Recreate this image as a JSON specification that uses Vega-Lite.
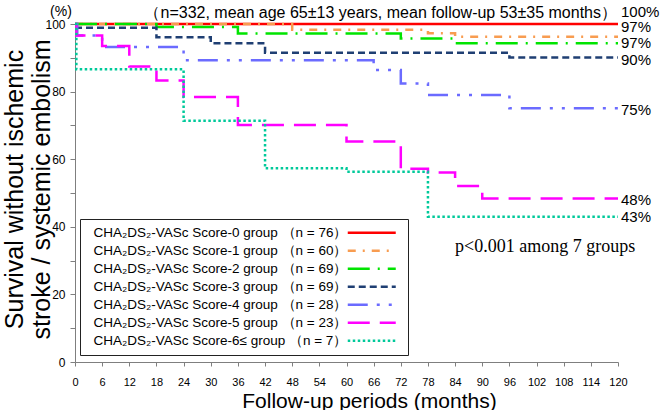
{
  "$schema": "https://vega.github.io/schema/vega-lite/v6.json",
  "width": 543,
  "height": 338,
  "autosize": {"type": "none"},
  "padding": {"left": 75, "top": 24, "right": 43, "bottom": 48},
  "background": "white",
  "config": {"view": {"stroke": null}, "font": "Liberation Sans", "axis": {"labelOverlap": false}, "axisX": {"labelOverlap": false}},
  "datasets": {
    "curves": [
      {"g": "CHA₂DS₂-VASc Score-0 group （n = 76）", "m": 0, "v": 100},
      {"g": "CHA₂DS₂-VASc Score-0 group （n = 76）", "m": 120, "v": 100},
      {"g": "CHA₂DS₂-VASc Score-1 group （n = 60）", "m": 0, "v": 100},
      {"g": "CHA₂DS₂-VASc Score-1 group （n = 60）", "m": 48, "v": 98.3},
      {"g": "CHA₂DS₂-VASc Score-1 group （n = 60）", "m": 78, "v": 97.3},
      {"g": "CHA₂DS₂-VASc Score-1 group （n = 60）", "m": 84, "v": 96.2},
      {"g": "CHA₂DS₂-VASc Score-1 group （n = 60）", "m": 120, "v": 96.2},
      {"g": "CHA₂DS₂-VASc Score-2 group （n = 69）", "m": 0, "v": 100},
      {"g": "CHA₂DS₂-VASc Score-2 group （n = 69）", "m": 18, "v": 99.1},
      {"g": "CHA₂DS₂-VASc Score-2 group （n = 69）", "m": 36, "v": 97.2},
      {"g": "CHA₂DS₂-VASc Score-2 group （n = 69）", "m": 72, "v": 95.7},
      {"g": "CHA₂DS₂-VASc Score-2 group （n = 69）", "m": 84, "v": 94.3},
      {"g": "CHA₂DS₂-VASc Score-2 group （n = 69）", "m": 120, "v": 94.3},
      {"g": "CHA₂DS₂-VASc Score-3 group （n = 69）", "m": 0, "v": 98.9},
      {"g": "CHA₂DS₂-VASc Score-3 group （n = 69）", "m": 18, "v": 96.1},
      {"g": "CHA₂DS₂-VASc Score-3 group （n = 69）", "m": 30, "v": 94.3},
      {"g": "CHA₂DS₂-VASc Score-3 group （n = 69）", "m": 42, "v": 91.5},
      {"g": "CHA₂DS₂-VASc Score-3 group （n = 69）", "m": 96, "v": 90.1},
      {"g": "CHA₂DS₂-VASc Score-3 group （n = 69）", "m": 120, "v": 90.1},
      {"g": "CHA₂DS₂-VASc Score-4 group （n = 28）", "m": 0, "v": 100},
      {"g": "CHA₂DS₂-VASc Score-4 group （n = 28）", "m": 0.5, "v": 96.6},
      {"g": "CHA₂DS₂-VASc Score-4 group （n = 28）", "m": 6, "v": 93.2},
      {"g": "CHA₂DS₂-VASc Score-4 group （n = 28）", "m": 24, "v": 89.3},
      {"g": "CHA₂DS₂-VASc Score-4 group （n = 28）", "m": 66, "v": 86.4},
      {"g": "CHA₂DS₂-VASc Score-4 group （n = 28）", "m": 72, "v": 82.4},
      {"g": "CHA₂DS₂-VASc Score-4 group （n = 28）", "m": 78, "v": 79.0},
      {"g": "CHA₂DS₂-VASc Score-4 group （n = 28）", "m": 96, "v": 75.1},
      {"g": "CHA₂DS₂-VASc Score-4 group （n = 28）", "m": 120, "v": 75.1},
      {"g": "CHA₂DS₂-VASc Score-5 group （n = 23）", "m": 0, "v": 100},
      {"g": "CHA₂DS₂-VASc Score-5 group （n = 23）", "m": 0.3, "v": 96.6},
      {"g": "CHA₂DS₂-VASc Score-5 group （n = 23）", "m": 6, "v": 93.5},
      {"g": "CHA₂DS₂-VASc Score-5 group （n = 23）", "m": 12, "v": 87.4},
      {"g": "CHA₂DS₂-VASc Score-5 group （n = 23）", "m": 18, "v": 83.3},
      {"g": "CHA₂DS₂-VASc Score-5 group （n = 23）", "m": 24, "v": 78.4},
      {"g": "CHA₂DS₂-VASc Score-5 group （n = 23）", "m": 36, "v": 70.1},
      {"g": "CHA₂DS₂-VASc Score-5 group （n = 23）", "m": 60, "v": 65.2},
      {"g": "CHA₂DS₂-VASc Score-5 group （n = 23）", "m": 72, "v": 57.2},
      {"g": "CHA₂DS₂-VASc Score-5 group （n = 23）", "m": 78, "v": 56.1},
      {"g": "CHA₂DS₂-VASc Score-5 group （n = 23）", "m": 84, "v": 52.1},
      {"g": "CHA₂DS₂-VASc Score-5 group （n = 23）", "m": 90, "v": 48.4},
      {"g": "CHA₂DS₂-VASc Score-5 group （n = 23）", "m": 120, "v": 48.4},
      {"g": "CHA₂DS₂-VASc Score-6≤ group  （n = 7）", "m": 0, "v": 100},
      {"g": "CHA₂DS₂-VASc Score-6≤ group  （n = 7）", "m": 0.3, "v": 86.6},
      {"g": "CHA₂DS₂-VASc Score-6≤ group  （n = 7）", "m": 24, "v": 71.4},
      {"g": "CHA₂DS₂-VASc Score-6≤ group  （n = 7）", "m": 42, "v": 57.3},
      {"g": "CHA₂DS₂-VASc Score-6≤ group  （n = 7）", "m": 60, "v": 56.3},
      {"g": "CHA₂DS₂-VASc Score-6≤ group  （n = 7）", "m": 78, "v": 43.0},
      {"g": "CHA₂DS₂-VASc Score-6≤ group  （n = 7）", "m": 120, "v": 43.0}
    ],
    "endlabels": [
      {"label": "100%", "m": 120, "v": 103.6},
      {"label": "97%", "m": 120, "v": 99.0},
      {"label": "97%", "m": 120, "v": 94.4},
      {"label": "90%", "m": 120, "v": 89.3},
      {"label": "75%", "m": 120, "v": 74.6},
      {"label": "48%", "m": 120, "v": 47.9},
      {"label": "43%", "m": 120, "v": 42.9}
    ],
    "header": [
      {"label": "（n=332,  mean age 65±13 years, mean follow-up 53±35 months）", "m": 120, "v": 103.3}
    ],
    "unit": [
      {"label": "(%)", "m": -3.1, "v": 103.6}
    ],
    "pval": [
      {"label": "p<0.001 among 7 groups", "m": 103.9, "v": 34.0}
    ]
  },
  "encoding": {
    "x": {
      "field": "m", "type": "quantitative",
      "scale": {"domain": [0, 120], "nice": false, "zero": false},
      "axis": {
        "values": [0, 6, 12, 18, 24, 30, 36, 42, 48, 54, 60, 66, 72, 78, 84, 90, 96, 102, 108, 114, 120],
        "grid": false,
        "domainColor": "#7f7f7f",
        "tickColor": "#7f7f7f",
        "tickSize": 4,
        "labelPadding": 10,
        "labelFontSize": 11,
        "labelColor": "black",
        "labelFlush": false,
        "labelOverlap": false,
        "title": "Follow-up periods (months)",
        "titleFontSize": 21,
        "titleFontWeight": "normal",
        "titleColor": "black",
        "titleX": 294,
        "titleY": 39,
        "titleBaseline": "middle",
        "titleAlign": "center"
      }
    },
    "y": {
      "field": "v", "type": "quantitative",
      "scale": {"domain": [0, 100], "nice": false},
      "axis": {
        "values": [0, 10, 20, 30, 40, 50, 60, 70, 80, 90, 100],
        "labelExpr": "datum.value % 20 === 0 ? datum.label : ''",
        "grid": false,
        "domainColor": "#7f7f7f",
        "tickColor": "#7f7f7f",
        "tickSize": 5,
        "labelPadding": 5,
        "labelFontSize": 12,
        "labelColor": "black",
        "labelFlush": false,
        "labelOverlap": false,
        "title": ["Survival without ischemic", "stroke / systemic embolism"],
        "titleFontSize": 25,
        "titleFontWeight": "normal",
        "titleColor": "black",
        "titleAngle": -90,
        "titleX": -61,
        "titleY": 165,
        "titleAlign": "center",
        "titleBaseline": "middle",
        "titleLineHeight": 27
      }
    }
  },
  "layer": [
    {
      "data": {"name": "curves"},
      "mark": {"type": "line", "interpolate": "step-after", "strokeWidth": 2.5},
      "encoding": {
        "color": {
          "field": "g", "type": "nominal",
          "scale": {
            "domain": [
              "CHA₂DS₂-VASc Score-0 group （n = 76）",
              "CHA₂DS₂-VASc Score-1 group （n = 60）",
              "CHA₂DS₂-VASc Score-2 group （n = 69）",
              "CHA₂DS₂-VASc Score-3 group （n = 69）",
              "CHA₂DS₂-VASc Score-4 group （n = 28）",
              "CHA₂DS₂-VASc Score-5 group （n = 23）",
              "CHA₂DS₂-VASc Score-6≤ group  （n = 7）"
            ],
            "range": ["#ff0000", "#f89c50", "#00e400", "#1f3f73", "#6b6bff", "#ff00ff", "#00c99a"]
          },
          "legend": {
            "title": null,
            "orient": "none",
            "legendX": 5,
            "legendY": 195,
            "symbolType": "M -6 0 L 6 0",
            "symbolSize": 64,
            "symbolStrokeWidth": 2.5,
            "symbolOffset": 278,
            "labelOffset": -285,
            "labelFont": "Liberation Sans",
            "labelFontSize": 13.5,
            "labelColor": "black",
            "labelLimit": 400,
            "rowPadding": 3,
            "padding": 7,
            "strokeColor": "#222222",
            "fillColor": "white"
          }
        },
        "strokeDash": {
          "field": "g", "type": "nominal",
          "scale": {
            "domain": [
              "CHA₂DS₂-VASc Score-0 group （n = 76）",
              "CHA₂DS₂-VASc Score-1 group （n = 60）",
              "CHA₂DS₂-VASc Score-2 group （n = 69）",
              "CHA₂DS₂-VASc Score-3 group （n = 69）",
              "CHA₂DS₂-VASc Score-4 group （n = 28）",
              "CHA₂DS₂-VASc Score-5 group （n = 23）",
              "CHA₂DS₂-VASc Score-6≤ group  （n = 7）"
            ],
            "range": [[1, 0], [8, 7, 2, 7], [22, 8, 2, 8], [7, 4], [20, 9, 3, 9, 3, 9], [22, 10], [2.5, 2.5]]
          },
          "legend": {
            "title": null,
            "orient": "none",
            "legendX": 5,
            "legendY": 195,
            "symbolType": "M -6 0 L 6 0",
            "symbolSize": 64,
            "symbolStrokeWidth": 2.5,
            "symbolOffset": 278,
            "labelOffset": -285,
            "labelFont": "Liberation Sans",
            "labelFontSize": 13.5,
            "labelColor": "black",
            "labelLimit": 400,
            "rowPadding": 3,
            "padding": 7,
            "strokeColor": "#222222",
            "fillColor": "white"
          }
        }
      }
    },
    {
      "data": {"name": "endlabels"},
      "mark": {"type": "text", "align": "left", "baseline": "middle", "dx": 3, "fontSize": 15, "color": "black"},
      "encoding": {"text": {"field": "label"}}
    },
    {
      "data": {"name": "header"},
      "mark": {"type": "text", "align": "right", "baseline": "middle", "dx": -1, "fontSize": 16, "color": "black"},
      "encoding": {"text": {"field": "label"}}
    },
    {
      "data": {"name": "unit"},
      "mark": {"type": "text", "align": "center", "baseline": "middle", "fontSize": 14, "color": "black"},
      "encoding": {"text": {"field": "label"}}
    },
    {
      "data": {"name": "pval"},
      "mark": {"type": "text", "align": "center", "baseline": "middle", "fontSize": 18, "font": "Liberation Serif", "color": "black"},
      "encoding": {"text": {"field": "label"}}
    }
  ]
}
